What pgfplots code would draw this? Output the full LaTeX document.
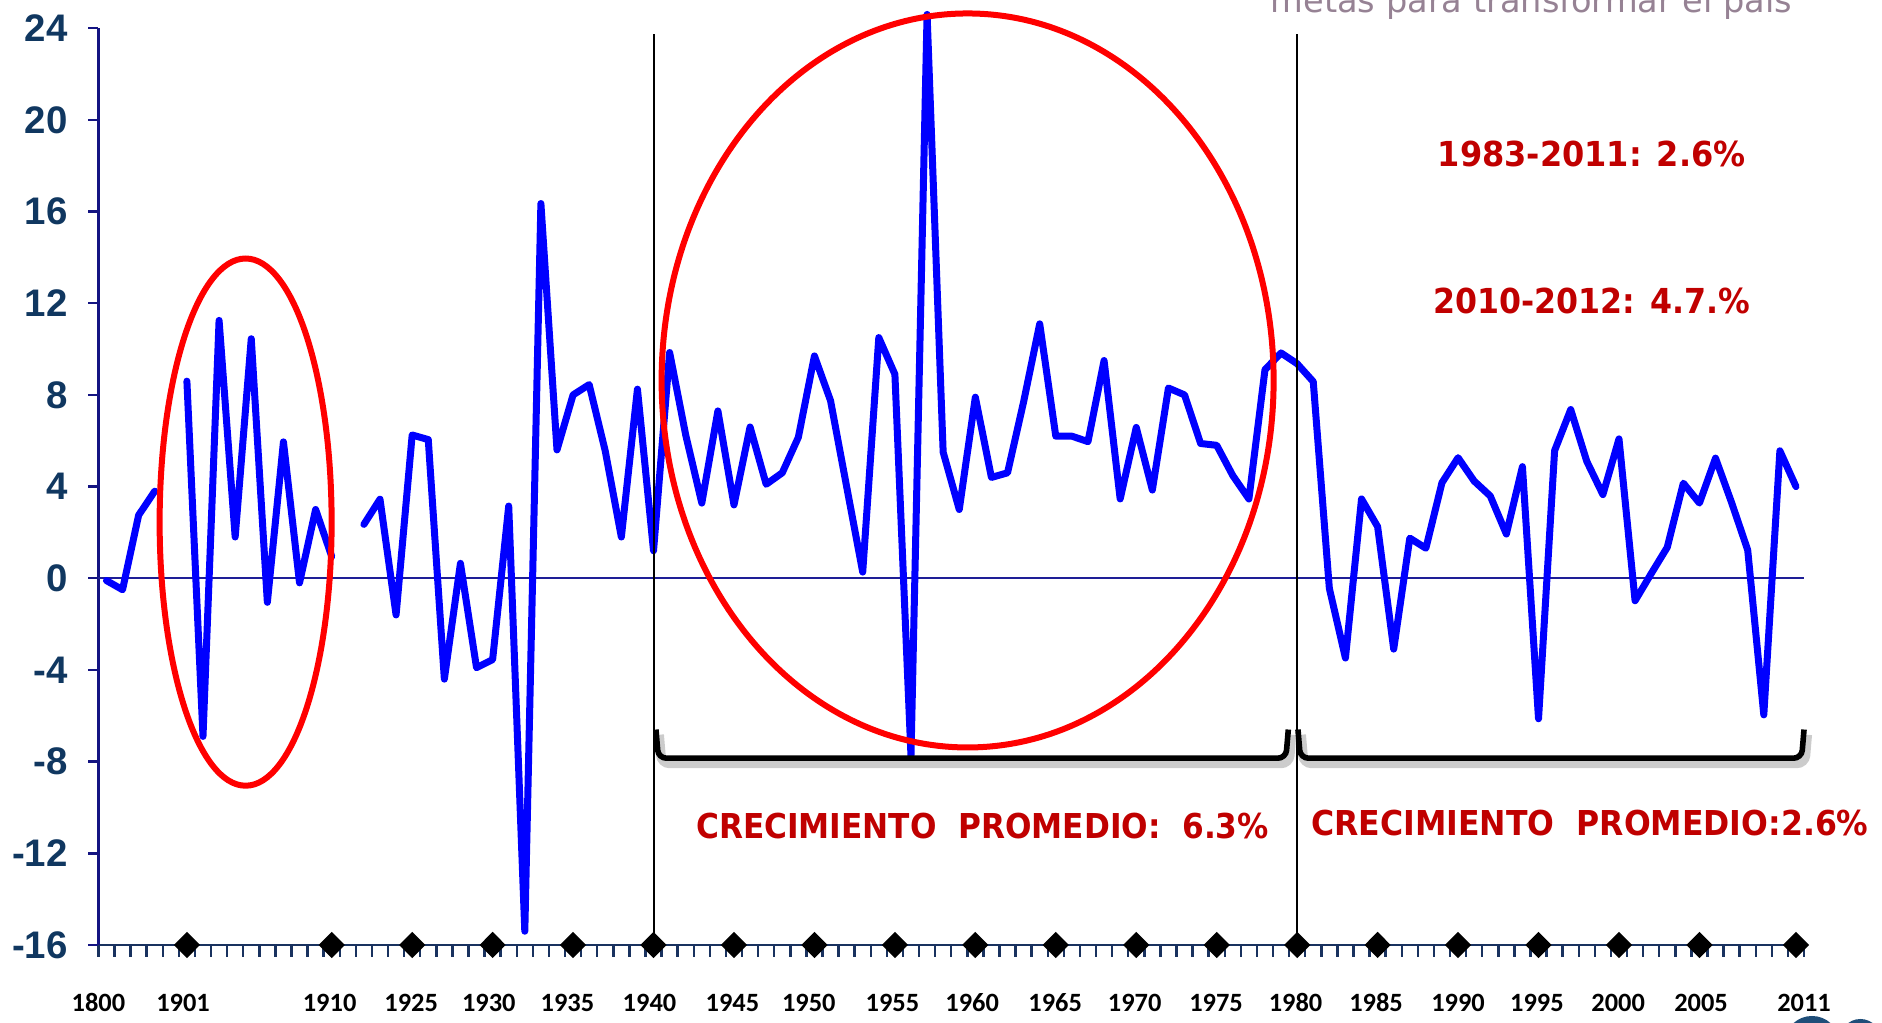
\documentclass[border=0pt]{standalone}
\usepackage{pgfplots}
\pgfplotsset{compat=1.18}
\usepackage{pgfplotstable}
\usepackage{fontspec}
\setmainfont{Liberation Sans}
\newfontfamily\xlabfont{Carlito}
\newfontfamily\redfont{DejaVu Sans}
\newfontfamily\fadefont{DejaVu Sans}

\definecolor{ylab}{RGB}{16,55,96}
\definecolor{yaxis}{RGB}{20,20,130}
\definecolor{xaxis}{RGB}{25,50,95}
\definecolor{zeroline}{RGB}{30,30,150}
\definecolor{dred}{RGB}{192,0,0}
\definecolor{fade}{RGB}{150,130,148}
\definecolor{logo}{RGB}{31,78,121}
\definecolor{pureblue}{RGB}{0,0,255}
\definecolor{purered}{RGB}{255,0,0}

\pgfplotstableread{
x y
0 -0.1
1 -0.5
2 2.75
3 3.8
4 nan
5 8.6
6 -6.9
7 11.25
8 1.8
9 10.45
10 -1.05
11 5.95
12 -0.2
13 3.0
14 0.95
15 nan
16 2.35
17 3.45
18 -1.6
19 6.25
20 6.05
21 -4.4
22 0.65
23 -3.9
24 -3.55
25 3.15
26 -15.4
27 16.35
28 5.6
29 8.0
30 8.45
31 5.55
32 1.8
33 8.25
34 1.2
35 9.85
36 6.25
37 3.28
38 7.3
39 3.2
40 6.6
41 4.1
42 4.6
43 6.15
44 9.7
45 7.75
46 4.0
47 0.27
48 10.5
49 8.9
50 -7.75
51 24.6
52 5.5
53 3.0
54 7.9
55 4.4
56 4.6
57 7.7
58 11.1
59 6.2
60 6.2
61 5.96
62 9.5
63 3.46
64 6.58
65 3.85
66 8.3
67 8.0
68 5.88
69 5.8
70 4.48
71 3.46
72 9.1
73 9.83
74 9.36
75 8.58
76 -0.44
77 -3.48
78 3.46
79 2.25
80 -3.09
81 1.75
82 1.31
83 4.17
84 5.26
85 4.24
86 3.59
87 1.93
88 4.87
89 -6.13
90 5.57
91 7.36
92 5.1
93 3.65
94 6.08
95 -0.98
96 0.2
97 1.35
98 4.15
99 3.28
100 5.24
101 3.3
102 1.23
103 -5.96
104 5.56
105 4.0
}\gdp

\begin{document}
\begin{tikzpicture}
\begin{axis}[
  at={(0,0)}, anchor=south west,
  scale only axis, width=426.4pt, height=229.2pt,
  xmin=-0.5, xmax=105.5, ymin=-16, ymax=24,
  clip=false,
  axis x line*=bottom, axis y line*=left,
  every outer x axis line/.append style={-},
  every outer y axis line/.append style={-},
  x axis line style={draw=xaxis, line width=0.6pt, -},
  y axis line style={draw=yaxis, line width=0.7pt, -},
  tick align=outside,
  major tick length=2.5pt, minor tick length=3pt,
  ytick={-16,-12,-8,-4,0,4,8,12,16,20,24},
  yticklabels={-16,-12,-8,-4,0,4,8,12,16,20,24},
  ytick style={draw=yaxis, line width=0.6pt},
  yticklabel style={font=\fontsize{9.6}{10}\selectfont\bfseries, text=ylab, anchor=east, inner sep=0pt, xshift=-5pt},
  xtick={-0.5,4.76,13.87,18.94,23.76,28.65,33.75,38.9,43.65,48.85,53.8,58.96,63.9,68.96,73.9,78.9,84,88.9,93.95,99.1,105.5},
  xticklabels={1800,1901,1910,1925,1930,1935,1940,1945,1950,1955,1960,1965,1970,1975,1980,1985,1990,1995,2000,2005,2011},
  major x tick style={draw=none},
  minor xtick={-0.5,0.5,...,105.5},
  minor x tick style={draw=xaxis, line width=0.6pt},
  xticklabel style={font=\xlabfont\bfseries\fontsize{6.6}{7}\selectfont, text=black, anchor=center, inner sep=0pt, yshift=-11.9pt},
]
% zero line
\draw[zeroline, line width=0.5pt] (axis cs:-0.5,0) -- (axis cs:105.5,0);
% data
\addplot[pureblue, line width=1.75pt, line join=round, line cap=round, mark=none, unbounded coords=jump] table[x=x,y=y]{\gdp};
% vertical separators
\draw[black, line width=0.5pt] (axis cs:34,-16) -- (axis cs:34,23.75);
\draw[black, line width=0.5pt] (axis cs:74,-16) -- (axis cs:74,23.75);
% ellipses
\draw[purered, line width=1.5pt] (axis cs:8.65,2.45) ellipse [x radius=21.5pt, y radius=65.9pt];
\draw[purered, line width=1.5pt] (axis cs:53.52,8.63) ellipse [x radius=76.5pt, y radius=91.75pt];
% bracket shadows
\draw[black, opacity=0.2, line width=2.4pt, rounded corners=2pt, xshift=0.8pt, yshift=-1.3pt]
  (axis cs:34.15,-6.6) -- (axis cs:34.3,-7.85) -- (axis cs:73.3,-7.85) -- (axis cs:73.45,-6.6);
\draw[black, opacity=0.2, line width=2.4pt, rounded corners=2pt, xshift=0.8pt, yshift=-1.3pt]
  (axis cs:74.05,-6.6) -- (axis cs:74.2,-7.85) -- (axis cs:105.35,-7.85) -- (axis cs:105.5,-6.6);
% brackets
\draw[black, line width=1.4pt, rounded corners=2pt]
  (axis cs:34.15,-6.6) -- (axis cs:34.3,-7.85) -- (axis cs:73.3,-7.85) -- (axis cs:73.45,-6.6);
\draw[black, line width=1.4pt, rounded corners=2pt]
  (axis cs:74.05,-6.6) -- (axis cs:74.2,-7.85) -- (axis cs:105.35,-7.85) -- (axis cs:105.5,-6.6);
% diamonds
\addplot[only marks, mark=diamond*, mark size=3pt, black, mark options={xscale=1.33}] coordinates {
(5,-16) (14,-16) (19,-16) (24,-16) (29,-16) (34,-16) (39,-16) (44,-16) (49,-16) (54,-16)
(59,-16) (64,-16) (69,-16) (74,-16) (79,-16) (84,-16) (89,-16) (94,-16) (99,-16) (105,-16)};
% annotations
\node[text=dred, font=\redfont\bfseries\fontsize{8.6}{9}\selectfont, inner sep=0pt] at (axis cs:92.3,18.53) {\scalebox{0.93}[1]{1983-2011: 2.6\%}};
\node[text=dred, font=\redfont\bfseries\fontsize{8.6}{9}\selectfont, inner sep=0pt] at (axis cs:92.3,12.1) {\scalebox{0.92}[1]{2010-2012: 4.7.\%}};
\node[text=dred, font=\redfont\bfseries\fontsize{8.57}{9}\selectfont, inner sep=0pt] at (axis cs:54.45,-10.8) {\scalebox{0.91}[1]{CRECIMIENTO\ \ PROMEDIO:\ \ 6.3\%}};
\node[text=dred, font=\redfont\bfseries\fontsize{8.57}{9}\selectfont, inner sep=0pt] at (axis cs:92.2,-10.67) {\scalebox{0.92}[1]{CRECIMIENTO\ \ PROMEDIO:2.6\%}};
\node[anchor=base, text=fade, font=\fadefont\fontsize{8.4}{9}\selectfont, inner sep=0pt] at (axis cs:88.57,24.68) {metas para transformar el país};
\end{axis}
% logo fragment at bottom right
\fill[logo] (428.4pt,-23.75pt) ellipse [x radius=6.5pt, y radius=6pt];
\fill[logo] (440.5pt,-24.5pt) ellipse [x radius=5.5pt, y radius=6pt];
\pgfresetboundingbox
\path[use as bounding box] (-24.6pt,-19.5pt) rectangle (445.9pt,236.25pt);
\end{tikzpicture}
\end{document}
